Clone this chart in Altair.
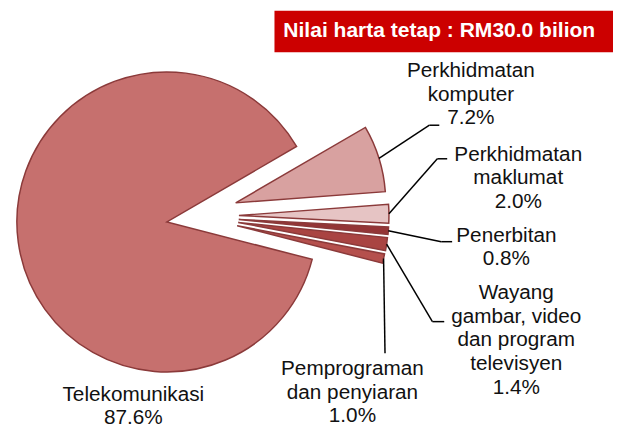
import math
import altair as alt
import pandas as pd

# ---- data ----
categories = [
    "Perkhidmatan komputer",
    "Perkhidmatan maklumat",
    "Penerbitan",
    "Wayang gambar, video dan program televisyen",
    "Pemprograman dan penyiaran",
    "Telekomunikasi",
]
shares = [7.2, 2.0, 0.8, 1.4, 1.0, 87.6]
label_names = [
    "Perkhidmatan\nkomputer",
    "Perkhidmatan\nmaklumat",
    "Penerbitan",
    "Wayang\ngambar, video\ndan program\ntelevisyen",
    "Pemprograman\ndan penyiaran",
    "Telekomunikasi",
]
title_text = "Nilai harta tetap : RM30.0 bilion"

# ---- style / layout ----
colors = ["#D8A1A0", "#E6C4C4", "#943536", "#A94442", "#B5504D", "#C6706E"]
EDGE = "#8B3A3A"
FONT = "Liberation Sans"
W, H = 613, 420
CX, CY = 161, 214          # pie centre (chart px)
R = 152                    # pie radius
RAD0 = math.radians(59.8)  # start angle of first slice
EXP_X, EXP_Y, EXP_SHIFT = 73, 45, -6  # explosion of the small slices

# label anchors: centre x, first baseline y, leader elbow (x, y), leader end x
label_layout = {
    "Perkhidmatan komputer": (469, 67, 427, 116, 437),
    "Perkhidmatan maklumat": (517, 152, 435, 150, 445),
    "Penerbitan": (505, 234, 439, 234, 450),
    "Wayang gambar, video dan program televisyen": (515, 292, 430, 315, 442),
    "Pemprograman dan penyiaran": (349, 369, 382, 347, 382),
    "Telekomunikasi": (127, 395, None, None, None),
}

rows = []
for c, v, n in zip(categories, shares, label_names):
    lx, ly, ex, ey, hx = label_layout[c]
    rows.append(dict(category=c, value=v, name=n, lx=lx, ly=ly,
                     ex=ex, ey=ey, hx=hx))
df = pd.DataFrame(rows)

base = alt.Chart(df).transform_window(
    end="sum(value)", frame=[None, 0]
).transform_calculate(
    start="datum.end - datum.value",
    mid=f"{RAD0} + PI * (datum.start + datum.end) / 100",
    exploded="datum.category === 'Telekomunikasi' ? 0 : 1",
).transform_calculate(
    cx=f"{CX} + datum.exploded * {EXP_X} * sin(datum.mid)",
    cy=f"{CY} + datum.exploded * ({EXP_SHIFT} - {EXP_Y} * cos(datum.mid))",
).transform_calculate(
    sx=f"datum.cx + {R} * sin(datum.mid)",
    sy=f"datum.cy - {R} * cos(datum.mid)",
    label="datum.name + '\\n' + format(datum.value, '.1f') + '%'",
)

arcs = base.mark_arc(radius=R, stroke=EDGE, strokeWidth=1.5, strokeJoin="miter").encode(
    x=alt.X("cx:Q", scale=None, axis=None),
    y=alt.Y("cy:Q", scale=None, axis=None),
    theta=alt.Theta("start:Q", stack=None,
                    scale=alt.Scale(domain=[0, 100], range=[RAD0, RAD0 + 2 * math.pi])),
    theta2="end:Q",
    color=alt.Color("category:N", scale=alt.Scale(domain=categories, range=colors), legend=None),
)

lead1 = base.transform_filter("datum.ex != null").mark_rule(color="black", strokeWidth=1.5).encode(
    x=alt.X("sx:Q", scale=None, axis=None),
    y=alt.Y("sy:Q", scale=None, axis=None),
    x2="ex:Q",
    y2="ey:Q",
)
lead2 = base.transform_filter("datum.ex != null").mark_rule(color="black", strokeWidth=1.5).encode(
    x=alt.X("ex:Q", scale=None, axis=None),
    y=alt.Y("ey:Q", scale=None, axis=None),
    x2="hx:Q",
    y2="ey:Q",
)

labels = base.mark_text(font=FONT, fontSize=21, lineBreak="\n", lineHeight=24,
                        align="center", baseline="alphabetic", color="#111111").encode(
    x=alt.X("lx:Q", scale=None, axis=None),
    y=alt.Y("ly:Q", scale=None, axis=None),
    text="label:N",
)

tdf = pd.DataFrame([dict(t=title_text)])
title_box = alt.Chart(tdf).mark_rect(color="#CC0000").encode(
    x=alt.value(270), x2=alt.value(W + 10), y=alt.value(0), y2=alt.value(42)
)
title_lbl = alt.Chart(tdf).mark_text(font=FONT, fontSize=21.3, fontWeight="bold", color="white",
                                     align="left", baseline="middle").encode(
    x=alt.value(279), y=alt.value(21), text="t:N"
)

chart = alt.layer(arcs, lead1, lead2, labels, title_box, title_lbl).properties(
    width=W, height=H,
    autosize=alt.AutoSizeParams(type="none"),
    padding=0,
).configure_view(stroke=None)

chart.save("out.html", embed_options={"renderer": "svg", "actions": False})
